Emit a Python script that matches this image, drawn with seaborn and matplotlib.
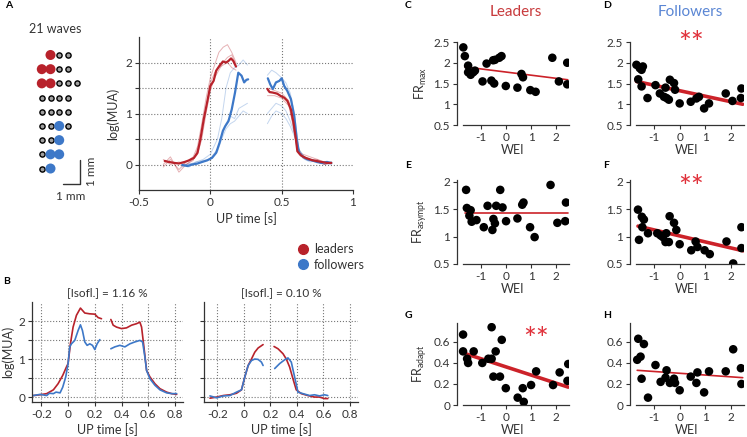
import numpy as np
import pandas as pd
import matplotlib
matplotlib.use("Agg")
import matplotlib.pyplot as plt
from matplotlib.lines import Line2D
import seaborn as sns

sns.set_style("ticks")
plt.rcParams["font.family"] = ["Lato", "DejaVu Sans"]
plt.rcParams["axes.unicode_minus"] = False
plt.rcParams["text.color"] = "#333333"
plt.rcParams["axes.labelcolor"] = "#333333"
plt.rcParams["xtick.color"] = "#333333"
plt.rcParams["ytick.color"] = "#333333"

RED = "#b8222b"
BLUE = "#3d78c8"
STAR = "#e0303a"
FIT = "#cc2229"

# ---------------------------------------------------------------------------
# panel A: electrode map (row strings, L = leader, F = follower, g = other)
# ---------------------------------------------------------------------------
electrode_rows = [".Lgg", "LLgg", "LLggg", "gggg", "gggg", "ggFg", "ggF", "gFF", "gF"]

# panel A: mean traces (two segments each) and single-wave traces
a_red_t1 = [-0.32, -0.29, -0.25, -0.22, -0.18, -0.15, -0.115, -0.09, -0.07, -0.046, -0.023, 0.0,
            0.023, 0.041, 0.065, 0.088, 0.11, 0.127, 0.145, 0.161, 0.18]
a_red_y1 = [0.07, 0.05, 0.03, 0.02, 0.05, 0.08, 0.13, 0.23, 0.49, 0.89, 1.21, 1.54,
            1.64, 1.84, 1.94, 2.02, 2.0, 2.03, 2.08, 2.03, 1.92]
a_red_t2 = [0.40, 0.415, 0.438, 0.468, 0.495, 0.518, 0.54, 0.565, 0.583, 0.60, 0.61, 0.634,
            0.668, 0.714, 0.749, 0.78, 0.818, 0.848]
a_red_y2 = [1.48, 1.42, 1.41, 1.39, 1.34, 1.31, 1.25, 1.08, 0.82, 0.49, 0.26, 0.18,
            0.13, 0.085, 0.066, 0.05, 0.03, 0.03]
a_blue_t1 = [-0.196, -0.16, -0.127, -0.09, -0.058, -0.023, 0.012, 0.041, 0.065, 0.088, 0.104,
             0.127, 0.15, 0.173, 0.196, 0.219, 0.237, 0.253, 0.265]
a_blue_y1 = [-0.01, -0.03, 0.0, 0.02, 0.05, 0.08, 0.13, 0.23, 0.43, 0.66, 0.75,
             0.85, 1.08, 1.41, 1.80, 1.74, 1.61, 1.66, 1.67]
a_blue_t2 = [0.403, 0.42, 0.438, 0.46, 0.484, 0.50, 0.518, 0.54, 0.565, 0.588, 0.606, 0.622,
             0.645, 0.68, 0.714, 0.75, 0.78, 0.818, 0.848]
a_blue_y2 = [1.69, 1.57, 1.48, 1.61, 1.64, 1.69, 1.54, 1.44, 1.28, 0.95, 0.49, 0.23,
             0.16, 0.10, 0.08, 0.05, 0.03, 0.05, 0.03]

a_red_single_t1 = [-0.33, -0.28, -0.22, -0.17, -0.12, -0.09, -0.06, -0.03, 0.0, 0.03, 0.06, 0.09, 0.12, 0.15, 0.18]
a_red_single_y1 = [
    [-0.05, 0.10, -0.10, 0.05, 0.15, 0.35, 0.80, 1.30, 1.70, 1.95, 2.20, 2.30, 2.35, 2.20, 2.00],
    [0.10, 0.00, 0.05, 0.00, 0.10, 0.20, 0.50, 1.00, 1.45, 1.70, 1.85, 2.00, 2.10, 2.15, 1.95],
    [0.00, 0.15, -0.15, 0.00, 0.08, 0.30, 0.60, 1.10, 1.60, 1.80, 1.90, 1.95, 2.00, 1.90, 1.85],
]
a_red_single_t2 = [0.40, 0.45, 0.50, 0.55, 0.58, 0.61, 0.65, 0.70, 0.75, 0.80, 0.85]
a_red_single_y2 = [
    [1.50, 1.45, 1.40, 1.25, 0.90, 0.35, 0.15, 0.10, 0.05, 0.00, 0.05],
    [1.35, 1.35, 1.30, 1.15, 0.80, 0.25, 0.20, 0.15, 0.10, 0.05, 0.02],
    [1.45, 1.40, 1.35, 1.20, 0.75, 0.30, 0.12, 0.08, 0.10, 0.00, 0.04],
]
a_blue_single_t1 = [-0.20, -0.15, -0.10, -0.05, 0.0, 0.05, 0.08, 0.11, 0.14, 0.17, 0.20, 0.23, 0.26]
a_blue_single_y1 = [
    [0.00, -0.05, 0.05, 0.10, 0.20, 0.50, 0.90, 1.50, 1.80, 1.90, 1.95, 2.05, 1.95],
    [0.00, 0.00, 0.05, 0.08, 0.10, 0.25, 0.50, 0.70, 0.80, 0.85, 0.95, 1.05, 1.00],
    [-0.05, 0.02, 0.00, 0.05, 0.12, 0.30, 0.55, 0.80, 0.95, 0.90, 1.10, 1.15, 1.20],
]
a_blue_single_t2 = [0.40, 0.43, 0.46, 0.50, 0.53, 0.56, 0.59, 0.62, 0.66, 0.70, 0.75, 0.80, 0.85]
a_blue_single_y2 = [
    [1.75, 1.85, 1.80, 1.70, 1.60, 1.40, 1.00, 0.30, 0.15, 0.10, 0.05, 0.00, 0.05],
    [0.80, 0.95, 1.05, 1.00, 0.90, 0.75, 0.55, 0.25, 0.10, 0.05, 0.08, 0.02, 0.00],
    [1.00, 1.10, 1.20, 1.15, 1.05, 0.85, 0.60, 0.30, 0.12, 0.08, 0.03, 0.05, 0.03],
]

# panel B: [Isofl.] = 1.16 %
b1_red_t1 = [-0.26, -0.21, -0.16, -0.11, -0.075, -0.04, -0.0125, 0.0, 0.0175, 0.0375, 0.0625,
             0.0925, 0.125, 0.16, 0.20, 0.225, 0.25]
b1_red_y1 = [0.04, 0.06, 0.09, 0.19, 0.35, 0.57, 0.79, 0.88, 1.40, 1.84, 2.15,
             2.34, 2.21, 2.19, 2.18, 2.09, 2.06]
b1_red_t2 = [0.32, 0.3375, 0.3625, 0.40, 0.4375, 0.475, 0.5125, 0.5375, 0.55, 0.5675, 0.5875,
             0.6125, 0.65, 0.6875, 0.7375, 0.775, 0.8125]
b1_red_y2 = [2.04, 1.89, 1.84, 1.80, 1.82, 1.89, 1.93, 1.97, 1.84, 1.32, 0.70,
             0.53, 0.35, 0.22, 0.13, 0.09, 0.07]
b1_blue_t1 = [-0.26, -0.21, -0.16, -0.14, -0.11, -0.09, -0.06, -0.04, -0.0175, 0.0, 0.0125, 0.025,
              0.05, 0.075, 0.0925, 0.1075, 0.125, 0.1425, 0.1625, 0.1825, 0.20, 0.2175, 0.2375]
b1_blue_y1 = [0.04, 0.07, 0.04, 0.10, 0.09, 0.13, 0.11, 0.26, 0.53, 0.88, 1.32, 1.40,
              1.49, 1.75, 1.90, 1.75, 1.45, 1.36, 1.40, 1.36, 1.25, 1.40, 1.51]
b1_blue_t2 = [0.32, 0.35, 0.3875, 0.425, 0.4625, 0.50, 0.5375, 0.5575, 0.575, 0.5875, 0.6125,
              0.65, 0.6875, 0.7375, 0.775, 0.8125]
b1_blue_y2 = [1.27, 1.32, 1.36, 1.32, 1.40, 1.45, 1.49, 1.45, 1.05, 0.70, 0.48,
              0.31, 0.19, 0.11, 0.09, 0.09]

# panel B: [Isofl.] = 0.10 %
b2_red_t1 = [-0.255, -0.205, -0.155, -0.105, -0.055, -0.0175, 0.0075, 0.0325, 0.0575, 0.0825, 0.1075, 0.145]
b2_red_y1 = [-0.03, 0.0, 0.04, 0.06, 0.10, 0.19, 0.53, 0.83, 1.00, 1.18, 1.29, 1.38]
b2_red_t2 = [0.2275, 0.2575, 0.295, 0.32, 0.345, 0.37, 0.395, 0.4325, 0.4825, 0.5325, 0.57, 0.6075, 0.6325]
b2_red_y2 = [1.33, 1.27, 1.14, 1.00, 0.79, 0.48, 0.19, 0.09, 0.04, 0.0, 0.0, -0.04, -0.04]
b2_blue_t1 = [-0.255, -0.205, -0.155, -0.105, -0.055, -0.0175, 0.0075, 0.0325, 0.0575, 0.0825, 0.1075, 0.1325, 0.145]
b2_blue_y1 = [0.03, -0.02, 0.03, 0.04, 0.13, 0.19, 0.53, 0.83, 0.96, 1.00, 0.99, 0.92, 0.83]
b2_blue_t2 = [0.2325, 0.27, 0.3075, 0.3325, 0.3575, 0.3825, 0.4075, 0.445, 0.495, 0.5325, 0.57, 0.6075, 0.6325]
b2_blue_y2 = [0.75, 0.88, 0.98, 1.03, 0.92, 0.53, 0.13, 0.09, 0.04, 0.06, 0.03, 0.06, 0.04]

b_xticks = [-0.2, 0, 0.2, 0.4, 0.6, 0.8]
b_xticklabels = ["-0.2", "0", "0.2", "0.4", "0.6", "0.8"]

# panels C-H: WEI vs firing-rate features, plus the fitted lines
c_wei = [-1.68, -1.62, -1.49, -1.49, -1.39, -1.29, -1.22, -0.92, -0.76, -0.50, -0.43, -0.26, -0.17,
         -0.57, -0.46, 0.0, 0.46, 0.62, 0.68, 0.97, 1.18, 1.84, 2.10, 2.43, 2.43]
c_fr = [2.37, 2.16, 1.93, 1.77, 1.71, 1.77, 1.81, 1.55, 1.98, 2.06, 2.07, 2.12, 2.16,
        1.57, 1.50, 1.44, 1.40, 1.73, 1.65, 1.34, 1.30, 2.12, 1.55, 2.00, 1.48]
c_fit_x, c_fit_y = [-1.62, 2.45], [1.90, 1.59]

d_wei = [-1.68, -1.55, -1.43, -1.48, -1.61, -1.48, -1.25, -0.94, -0.77, -0.61, -0.51, -0.42, -0.55,
         -0.38, -0.22, -0.18, 0.0, 0.43, 0.65, 0.75, 0.95, 1.14, 1.79, 2.05, 2.38, 2.40]
d_fr = [1.95, 1.87, 1.91, 1.83, 1.60, 1.43, 1.15, 1.46, 1.26, 1.18, 1.15, 1.11, 1.40,
        1.59, 1.51, 1.35, 1.02, 1.06, 1.14, 1.18, 0.90, 1.02, 1.26, 1.08, 1.15, 1.38]
d_fit_x, d_fit_y = [-1.68, 2.45], [1.55, 1.00]

e_wei = [-1.57, -1.54, -1.39, -1.44, -1.35, -1.16, -0.87, -0.72, -0.53, -0.49, -0.43, -0.38, -0.22,
         -0.13, 0.01, 0.46, 0.65, 0.70, 0.96, 1.14, 1.77, 2.04, 2.35, 2.38]
e_fr = [1.85, 1.52, 1.48, 1.38, 1.27, 1.30, 1.17, 1.56, 1.12, 1.32, 1.24, 1.56, 1.85,
        1.53, 1.28, 1.33, 1.58, 1.62, 1.17, 0.99, 1.94, 1.25, 1.28, 1.62]
e_fit_x, e_fit_y = [-1.62, 2.45], [1.42, 1.42]

f_wei = [-1.62, -1.58, -1.47, -1.39, -1.45, -1.23, -0.87, -0.74, -0.65, -0.52, -0.55, -0.42, -0.39,
         -0.22, -0.13, 0.0, 0.45, 0.62, 0.69, 0.97, 1.17, 1.82, 2.08, 2.40, 2.40]
f_fr = [1.49, 0.94, 1.36, 1.31, 1.17, 1.06, 1.06, 1.02, 0.99, 1.06, 0.90, 0.90, 1.37,
        1.25, 1.12, 0.86, 0.75, 0.91, 0.81, 0.75, 0.68, 0.91, 0.51, 1.17, 0.79]
f_fit_x, f_fit_y = [-1.62, 2.47], [1.19, 0.74]

g_wei = [-1.69, -1.69, -1.53, -1.49, -1.27, -0.93, -0.69, -0.56, -0.56, -0.40, -0.49, -0.23, -0.16,
         0.0, 0.47, 0.67, 0.71, 1.0, 1.2, 1.87, 2.13, 2.47, 2.44]
g_fr = [0.67, 0.51, 0.44, 0.40, 0.51, 0.40, 0.44, 0.74, 0.44, 0.51, 0.27, 0.27, 0.62,
        0.16, 0.07, 0.16, 0.03, 0.19, 0.32, 0.19, 0.31, 0.39, 0.23]
g_fit_x, g_fit_y = [-1.62, 2.47], [0.49, 0.17]

h_wei = [-1.61, -1.65, -1.52, -1.39, -1.48, -1.23, -0.94, -0.74, -0.55, -0.51, -0.38, -0.22, -0.18,
         0.0, 0.43, 0.65, 0.69, 0.95, 1.14, 1.79, 2.08, 2.38, 2.40]
h_fr = [0.63, 0.43, 0.46, 0.58, 0.25, 0.07, 0.38, 0.22, 0.26, 0.33, 0.21, 0.25, 0.21,
        0.14, 0.27, 0.21, 0.31, 0.12, 0.32, 0.32, 0.53, 0.35, 0.20]
h_fit_x, h_fit_y = [-1.65, 2.45], [0.33, 0.26]

wei_ticks = [-1, 0, 1, 2]


# ---------------------------------------------------------------------------
fig = plt.figure(figsize=(7.47, 4.37), dpi=100)
W, H = 747, 437


def box(l, t, r, b):
    return [l / W, 1 - b / H, (r - l) / W, (b - t) / H]


def style_ticks(ax):
    ax.tick_params(length=3, width=0.8, pad=2, labelsize=8.5, direction="out")
    ax.tick_params(which="minor", length=3, width=0.8, direction="out")
    for s in ["left", "bottom"]:
        ax.spines[s].set_linewidth(0.9)
        ax.spines[s].set_color("#333333")
    sns.despine(ax=ax)


def grid_lines(ax):
    ax.grid(True, which="both", linestyle=":", linewidth=0.8, color="#777777")


# --- A: electrode map -------------------------------------------------------
ax_el = fig.add_axes(box(7, 19.5, 137.5, 204))
ax_el.set_xlim(-4, 11)
ax_el.set_ylim(10.5, -2.5)
ax_el.axis("off")
for r, row in enumerate(electrode_rows):
    for c, kind in enumerate(row):
        if kind == "g":
            ax_el.scatter(c, r, s=14, color="#a0a0a0", edgecolor="black", linewidth=1.0, zorder=2)
        elif kind in "LF":
            ax_el.scatter(c, r, s=52, color=RED if kind == "L" else BLUE, edgecolor="none", zorder=3)
ax_el.text(1.55, -1.8, "21 waves", ha="center", va="center", fontsize=9)
ax_el.plot([2.4, 4.37, 4.37], [9.08, 9.08, 7.4], color="#333333", lw=1)
ax_el.text(5.75, 8.2, "1 mm", rotation=90, ha="center", va="center", fontsize=8.5)
ax_el.text(3.3, 9.95, "1 mm", ha="center", va="center", fontsize=8.5)

# --- A: traces ---------------------------------------------------------------
axA = fig.add_axes(box(139, 37, 353, 190))
for ys in a_red_single_y1:
    sns.lineplot(x=a_red_single_t1, y=ys, ax=axA, color=RED, lw=0.7, alpha=0.35, estimator=None, sort=False)
for ys in a_red_single_y2:
    sns.lineplot(x=a_red_single_t2, y=ys, ax=axA, color=RED, lw=0.7, alpha=0.35, estimator=None, sort=False)
for ys in a_blue_single_y1:
    sns.lineplot(x=a_blue_single_t1, y=ys, ax=axA, color=BLUE, lw=0.7, alpha=0.3, estimator=None, sort=False)
for ys in a_blue_single_y2:
    sns.lineplot(x=a_blue_single_t2, y=ys, ax=axA, color=BLUE, lw=0.7, alpha=0.3, estimator=None, sort=False)
for t, y in [(a_blue_t1, a_blue_y1), (a_blue_t2, a_blue_y2)]:
    sns.lineplot(x=t, y=y, ax=axA, color=BLUE, lw=1.6, estimator=None, sort=False)
for t, y in [(a_red_t1, a_red_y1), (a_red_t2, a_red_y2)]:
    sns.lineplot(x=t, y=y, ax=axA, color=RED, lw=1.6, estimator=None, sort=False)
axA.set_xlim(-0.5, 1)
axA.set_ylim(-0.5, 2.5)
axA.set_xticks([-0.5, 0, 0.5, 1])
axA.set_xticklabels(["-0.5", "0", "0.5", "1"])
axA.set_yticks([0, 1, 2])
axA.set_yticks([0.5, 1.5], minor=True)
axA.set_axisbelow(True)
axA.xaxis.grid(True, linestyle=":", linewidth=0.8, color="#777777")
axA.yaxis.grid(True, which="both", linestyle=":", linewidth=0.8, color="#777777")
for gl, v in zip(axA.xaxis.get_gridlines(), [-0.5, 0, 0.5, 1]):
    gl.set_visible(v in (0, 0.5))
axA.set_xlabel("UP time [s]", fontsize=9, labelpad=3)
axA.set_ylabel("log(MUA)", fontsize=9, labelpad=4)
style_ticks(axA)

fig.legend(handles=[Line2D([], [], ls="", marker="o", ms=7, color=RED, label="leaders"),
                    Line2D([], [], ls="", marker="o", ms=7, color=BLUE, label="followers")],
           loc="upper left", bbox_to_anchor=(290 / W, 1 - 238 / H), frameon=False,
           fontsize=9, handletextpad=0.3, labelspacing=0.3, borderaxespad=0, handlelength=1.2)

# --- B ------------------------------------------------------------------------
axB1 = fig.add_axes(box(32, 302, 183, 402))
axB2 = fig.add_axes(box(204, 302, 358, 402))
b_sets = [
    (axB1, [(b1_red_t1, b1_red_y1), (b1_red_t2, b1_red_y2)], [(b1_blue_t1, b1_blue_y1), (b1_blue_t2, b1_blue_y2)],
     "[Isofl.] = 1.16 %", (-0.27, 0.86)),
    (axB2, [(b2_red_t1, b2_red_y1), (b2_red_t2, b2_red_y2)], [(b2_blue_t1, b2_blue_y1), (b2_blue_t2, b2_blue_y2)],
     "[Isofl.] = 0.10 %", (-0.30, 0.86)),
]
for ax, reds, blues, title, xl in b_sets:
    for t, y in reds:
        sns.lineplot(x=t, y=y, ax=ax, color=RED, lw=1.2, estimator=None, sort=False)
    for t, y in blues:
        sns.lineplot(x=t, y=y, ax=ax, color=BLUE, lw=1.2, estimator=None, sort=False)
    ax.set_xlim(*xl)
    ax.set_ylim(-0.13, 2.5)
    ax.set_xticks(b_xticks)
    ax.set_xticklabels(b_xticklabels)
    ax.set_yticks([0, 1, 2])
    ax.set_yticks([0.5, 1.5], minor=True)
    ax.set_axisbelow(True)
    grid_lines(ax)
    ax.set_title(title, fontsize=8.5, pad=4)
    ax.set_xlabel("UP time [s]", fontsize=9, labelpad=2)
    style_ticks(ax)
axB1.set_ylabel("log(MUA)", fontsize=9, labelpad=3)
axB2.set_yticklabels([])

# --- C-H ------------------------------------------------------------------------
scatter_panels = [
    ("C", box(457, 42, 569, 125), c_wei, c_fr, c_fit_x, c_fit_y, False, (0.5, 2.5), [0.5, 1, 1.5, 2, 2.5],
     ["0.5", "1", "1.5", "2", "2.5"], "FR$_\\mathregular{max}$"),
    ("D", box(630, 42, 744, 125), d_wei, d_fr, d_fit_x, d_fit_y, True, (0.5, 2.5), [0.5, 1, 1.5, 2, 2.5],
     ["0.5", "1", "1.5", "2", "2.5"], None),
    ("E", box(457, 180, 569, 264), e_wei, e_fr, e_fit_x, e_fit_y, False, (0.5, 2.03), [0.5, 1, 1.5, 2],
     ["0.5", "1", "1.5", "2"], "FR$_\\mathregular{asympt}$"),
    ("F", box(630, 180, 744, 264), f_wei, f_fr, f_fit_x, f_fit_y, True, (0.5, 2.03), [0.5, 1, 1.5, 2],
     ["0.5", "1", "1.5", "2"], None),
    ("G", box(457, 323, 569, 405), g_wei, g_fr, g_fit_x, g_fit_y, True, (0, 0.78), [0, 0.2, 0.4, 0.6],
     ["0", "0.2", "0.4", "0.6"], "FR$_\\mathregular{adapt}$"),
    ("H", box(630, 323, 744, 405), h_wei, h_fr, h_fit_x, h_fit_y, False, (0, 0.78), [0, 0.2, 0.4, 0.6],
     ["0", "0.2", "0.4", "0.6"], None),
]
star_at = {"D": (0.45, 2.44), "F": (0.45, 1.88), "G": (1.2, 0.62)}
for name, pos, xs, ys, fx, fy, sig, ylim, yt, ytl, ylab in scatter_panels:
    ax = fig.add_axes(pos)
    sns.scatterplot(x=xs, y=ys, ax=ax, color="black", s=38, edgecolor="none", zorder=3)
    sns.lineplot(x=fx, y=fy, ax=ax, color=FIT, lw=2.6 if sig else 1.2, zorder=2)
    ax.set_xlim(-1.93, 2.5)
    ax.set_ylim(*ylim)
    ax.set_xticks(wei_ticks)
    ax.set_xticklabels(["-1", "0", "1", "2"])
    ax.set_yticks(yt)
    ax.set_yticklabels(ytl)
    ax.set_xlabel("WEI", fontsize=9, labelpad=1)
    if ylab:
        ax.set_ylabel(ylab, fontsize=9, labelpad=3)
    style_ticks(ax)
    ax.spines["bottom"].set_bounds(-1.7, 2.5)
    if name in star_at:
        sx, sy = star_at[name]
        ax.text(sx, sy, "**", color=STAR, fontsize=22, ha="center", va="center")

# --- titles and panel letters -------------------------------------------------
fig.text(516 / W, 1 - 12 / H, "Leaders", color="#c83a3c", fontsize=11, ha="center", va="center")
fig.text(690 / W, 1 - 12 / H, "Followers", color="#5a86d4", fontsize=11, ha="center", va="center")
for letter, x, y in [("A", 5, 6), ("B", 3, 282), ("C", 405, 6), ("D", 603, 6),
                     ("E", 405, 165), ("F", 603, 165), ("G", 405, 315), ("H", 603, 315)]:
    fig.text(x / W, 1 - y / H, letter, fontsize=7.5, fontweight="bold", ha="left", va="center", color="black")

fig.savefig("out.png", dpi=100)
